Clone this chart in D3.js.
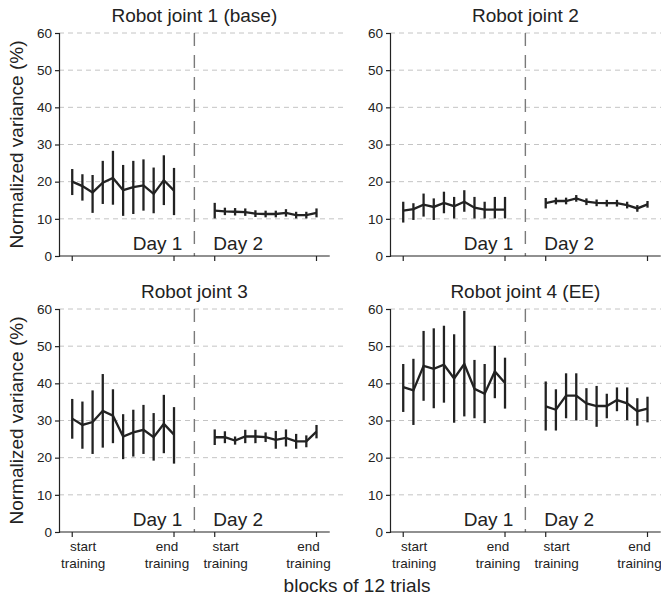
<!DOCTYPE html>
<html><head><meta charset="utf-8">
<script src="https://cdn.jsdelivr.net/npm/d3@7"></script>
<style>body{margin:0;background:#fff}svg{display:block}text{font-family:"Liberation Sans",Arial,sans-serif;fill:#222}</style>
</head><body><svg id="c" width="661" height="599"></svg>
<script>
const titles = ["Robot joint 1 (base)", "Robot joint 2", "Robot joint 3", "Robot joint 4 (EE)"];
const blocks = [1,2,3,4,5,6,7,8,9,10,11];
const yTicks = [0,10,20,30,40,50,60];
const xTickLabels = [["start","training"],["end","training"],["start","training"],["end","training"]];
const dayLabels = ["Day 1","Day 2"];

const j1Day1Mean = [20.0,18.8,17.1,19.7,21.0,17.7,18.5,19.0,16.7,20.4,17.6];
const j1Day1Lo   = [16.4,14.9,11.6,14.0,13.8,10.8,11.3,12.2,11.5,13.7,11.0];
const j1Day1Hi   = [23.4,22.0,21.8,25.6,28.3,24.5,25.6,26.0,23.8,27.1,23.7];
const j1Day2Mean = [12.2,12.0,11.9,11.8,11.4,11.3,11.3,11.6,11.0,11.0,11.6];
const j1Day2Lo   = [10.1,11.0,10.9,10.8,10.5,10.4,10.4,10.6,10.1,10.1,10.4];
const j1Day2Hi   = [14.3,13.0,12.9,12.8,12.3,12.2,12.2,12.6,11.9,11.9,12.8];

const j2Day1Mean = [12.2,12.6,13.8,13.2,14.3,13.4,14.6,13.0,12.5,12.5,12.5];
const j2Day1Lo   = [9.0,9.7,10.6,9.7,11.5,10.1,11.9,10.1,10.1,10.1,10.1];
const j2Day1Hi   = [14.6,14.2,16.8,15.5,17.3,15.9,17.7,15.9,14.6,15.9,15.9];
const j2Day2Mean = [14.2,14.8,14.8,15.5,14.6,14.3,14.2,14.2,13.7,12.8,13.9];
const j2Day2Lo   = [12.8,13.9,13.9,14.6,13.7,13.4,13.3,13.3,12.8,11.9,13.0];
const j2Day2Hi   = [15.6,15.7,15.7,16.4,15.5,15.2,15.1,15.1,14.6,13.7,14.8];

const j3Day1Mean = [30.5,28.8,29.6,32.6,31.3,25.7,26.8,27.5,25.5,29.1,26.2];
const j3Day1Lo   = [25.1,22.4,21.0,22.7,23.9,19.6,20.3,21.0,19.2,21.2,18.4];
const j3Day1Hi   = [35.8,35.1,38.1,42.5,38.4,31.7,32.9,34.2,32.0,36.9,33.6];
const j3Day2Mean = [25.5,25.5,24.6,25.7,25.7,25.5,24.8,25.3,24.4,24.4,27.0];
const j3Day2Lo   = [23.4,23.9,23.5,23.9,23.9,24.2,22.4,23.0,22.4,22.8,25.2];
const j3Day2Hi   = [27.6,27.1,25.7,27.5,27.5,26.8,27.2,27.6,26.4,26.0,28.8];

const j4Day1Mean = [39.0,38.1,44.7,43.9,45.0,41.3,45.2,38.5,37.2,43.2,40.1];
const j4Day1Lo   = [32.3,28.8,35.3,33.3,34.8,29.4,31.1,30.6,29.3,36.0,33.2];
const j4Day1Hi   = [45.2,46.6,54.1,54.8,55.5,53.2,59.5,46.3,45.2,50.1,46.9];
const j4Day2Mean = [33.8,32.9,36.7,36.7,34.6,33.9,33.9,35.5,34.6,32.5,33.2];
const j4Day2Lo   = [27.3,27.3,30.6,30.0,30.1,28.3,30.6,32.5,30.1,28.6,29.5];
const j4Day2Hi   = [40.5,38.4,42.7,42.7,38.7,39.3,37.2,38.9,38.9,36.0,36.4];

const panelsData = [
  [[j1Day1Mean,j1Day1Lo,j1Day1Hi],[j1Day2Mean,j1Day2Lo,j1Day2Hi]],
  [[j2Day1Mean,j2Day1Lo,j2Day1Hi],[j2Day2Mean,j2Day2Lo,j2Day2Hi]],
  [[j3Day1Mean,j3Day1Lo,j3Day1Hi],[j3Day2Mean,j3Day2Lo,j3Day2Hi]],
  [[j4Day1Mean,j4Day1Lo,j4Day1Hi],[j4Day2Mean,j4Day2Lo,j4Day2Hi]]
];

const svg = d3.select("#c");
const layout = [{x:59,y:256},{x:390,y:256},{x:59,y:532},{x:390,y:532}];
const dayOffset = [0, 14]; // day 2 blocks placed after a gap of 3 blocks
const ink = "#222";

panelsData.forEach((pd, pi) => {
  const L = layout[pi];
  const g = svg.append("g");
  const x = d3.scaleLinear().domain([-1.3, 26.8]).range([L.x, L.x + 286]);
  const y = d3.scaleLinear().domain([0, 60]).range([L.y, L.y - 223]);
  const xEnd = 25.3;

  // grid
  g.selectAll(".grid").data(yTicks.filter(d => d > 0)).join("line")
    .attr("x1", x(-1.3)).attr("x2", x(26.8))
    .attr("y1", d => y(d)).attr("y2", d => y(d))
    .attr("stroke", "#c4c4c4").attr("stroke-width", 1).attr("stroke-dasharray", "5,4");

  // divider
  g.append("line").attr("x1", x(12)).attr("x2", x(12))
    .attr("y1", y(60)).attr("y2", y(0))
    .attr("stroke", "#7a7a7a").attr("stroke-width", 1.4).attr("stroke-dasharray", "13,9");

  // y axis
  const ya = g.append("g").attr("transform", `translate(${L.x},0)`)
    .call(d3.axisLeft(y).tickValues(yTicks).tickSize(4).tickPadding(3));
  ya.selectAll("path,line").attr("stroke", ink).attr("stroke-width", 1.2);
  ya.selectAll("text").style("font-size", "13.5px").attr("fill", ink);

  // x axis baseline + ticks
  g.append("line").attr("x1", x(-1.3)).attr("x2", x(xEnd))
    .attr("y1", y(0)).attr("y2", y(0)).attr("stroke", ink).attr("stroke-width", 1.2);
  const tickIdx = [0, 10, 14, 24];
  g.selectAll(".xt").data(tickIdx).join("line")
    .attr("x1", d => x(d)).attr("x2", d => x(d))
    .attr("y1", y(0)).attr("y2", y(0) + 5)
    .attr("stroke", ink).attr("stroke-width", 1.2);
  if (pi >= 2) {
    const dxs = [11, -7, 11, -8];
    tickIdx.forEach((t, k) => {
      const tx = g.append("text").attr("text-anchor", "middle").style("font-size", "13.5px");
      tx.append("tspan").attr("x", x(t) + dxs[k]).attr("y", y(0) + 19).text(xTickLabels[k][0]);
      tx.append("tspan").attr("x", x(t) + dxs[k]).attr("y", y(0) + 36).text(xTickLabels[k][1]);
    });
  }

  // day labels
  g.append("text").attr("x", x(12) - 12).attr("y", y(0) - 6).attr("text-anchor", "end")
    .style("font-size", "19px").text(dayLabels[0]);
  g.append("text").attr("x", x(12) + 19).attr("y", y(0) - 6).attr("text-anchor", "start")
    .style("font-size", "19px").text(dayLabels[1]);

  // title
  g.append("text").attr("x", (x(-1.3) + x(xEnd)) / 2).attr("y", y(60) - 11)
    .attr("text-anchor", "middle").style("font-size", "19px").text(titles[pi]);

  // series
  pd.forEach((s, di) => {
    const [mean, lo, hi] = s;
    const pts = blocks.map((b, i) => ({xi: b - 1 + dayOffset[di], m: mean[i], lo: lo[i], hi: hi[i]}));
    g.selectAll(null).data(pts).join("line")
      .attr("x1", d => x(d.xi)).attr("x2", d => x(d.xi))
      .attr("y1", d => y(d.lo)).attr("y2", d => y(d.hi))
      .attr("stroke", ink).attr("stroke-width", 2.3);
    g.append("path").datum(pts)
      .attr("d", d3.line().x(d => x(d.xi)).y(d => y(d.m)))
      .attr("fill", "none").attr("stroke", ink).attr("stroke-width", 2.3).attr("stroke-linejoin", "miter");
  });

  // y label (left column only)
  if (pi % 2 === 0) {
    g.append("text").attr("transform", `translate(16,${(y(0) + y(60)) / 2}) rotate(-90)`)
      .attr("text-anchor", "middle").attr("dominant-baseline", "central")
      .style("font-size", "19px").text("Normalized variance (%)");
  }
});

svg.append("text").attr("x", 357).attr("y", 592).attr("text-anchor", "middle")
  .style("font-size", "19px").text("blocks of 12 trials");
</script></body></html>
